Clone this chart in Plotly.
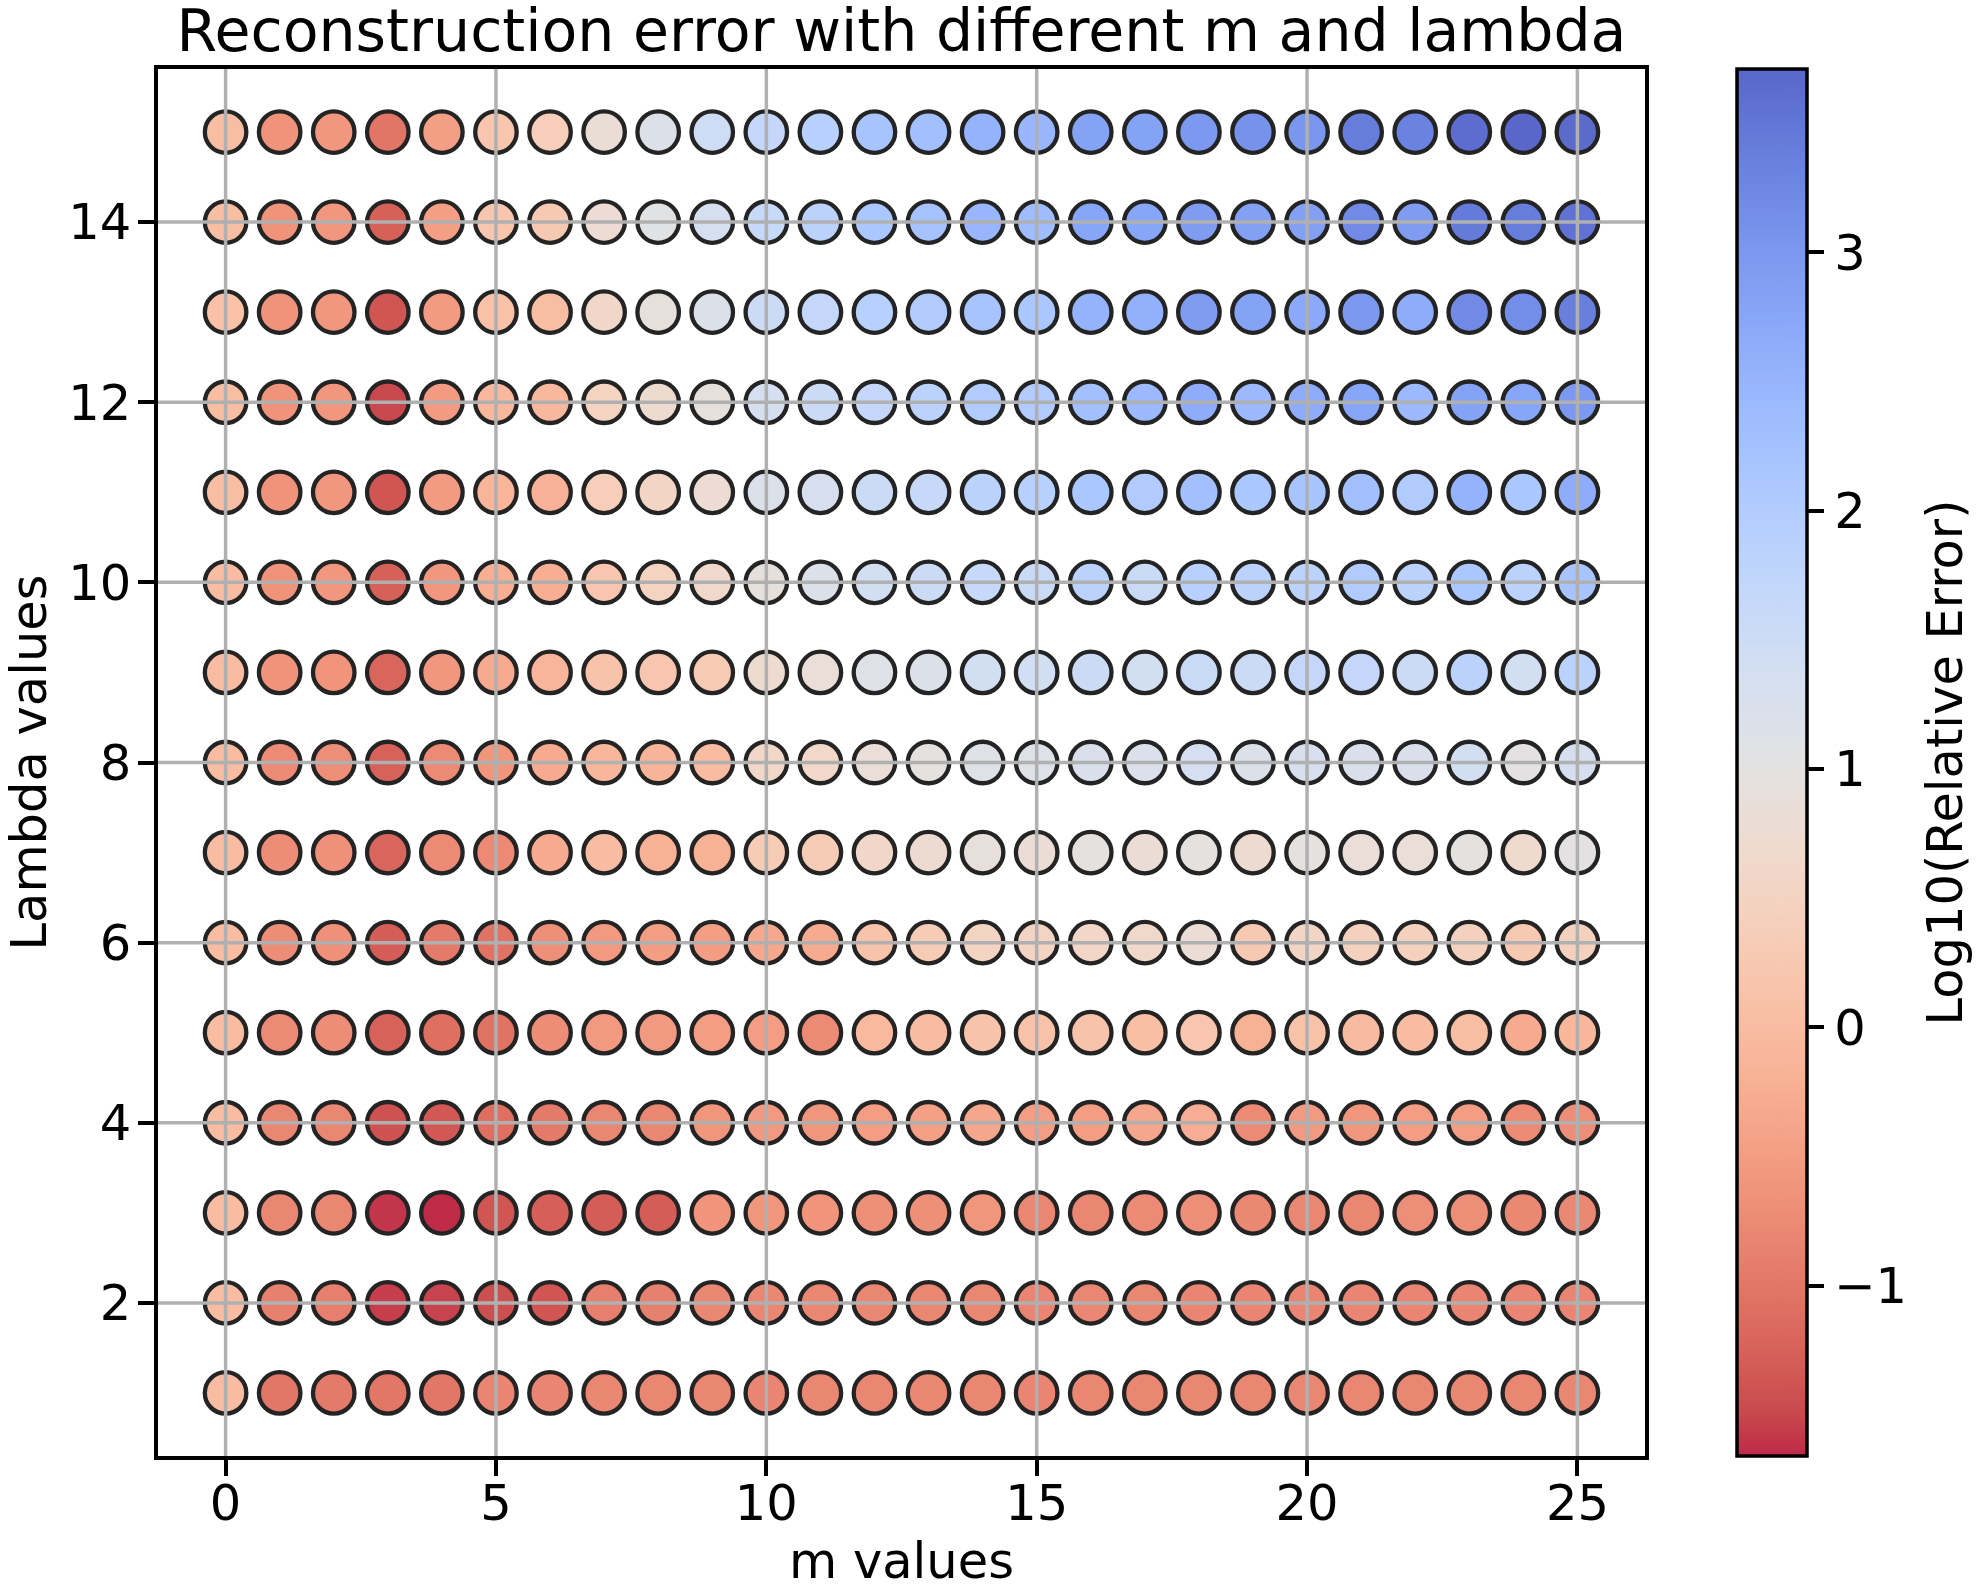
import plotly.graph_objects as go

# ---------------- data ----------------
m_values = list(range(26))
lambda_values = list(range(1, 16))

# log10(relative error) for each lambda, listed for m = 0..25
err_lambda_1 = [0.0, -1.0, -0.95, -1.0, -1.0, -0.82, -0.82, -0.8, -0.8, -0.8, -0.82, -0.8, -0.8, -0.8, -0.8, -0.82, -0.8, -0.8, -0.8, -0.8, -0.8, -0.8, -0.8, -0.8, -0.8, -0.8]
err_lambda_2 = [0.0, -0.87, -0.9, -1.55, -1.52, -1.42, -1.38, -0.9, -0.87, -0.8, -0.8, -0.8, -0.8, -0.8, -0.8, -0.82, -0.8, -0.8, -0.82, -0.82, -0.82, -0.82, -0.82, -0.82, -0.82, -0.82]
err_lambda_3 = [0.0, -0.8, -0.8, -1.6, -1.66, -1.37, -1.27, -1.3, -1.3, -0.62, -0.6, -0.62, -0.68, -0.68, -0.6, -0.8, -0.8, -0.75, -0.7, -0.78, -0.8, -0.8, -0.7, -0.7, -0.78, -0.78]
err_lambda_4 = [0.0, -0.8, -0.8, -1.4, -1.35, -1.1, -0.95, -0.8, -0.8, -0.6, -0.55, -0.6, -0.5, -0.45, -0.35, -0.5, -0.5, -0.35, -0.25, -0.75, -0.55, -0.6, -0.5, -0.5, -0.75, -0.7]
err_lambda_5 = [0.0, -0.75, -0.72, -1.25, -1.1, -1.05, -0.72, -0.55, -0.55, -0.5, -0.5, -0.75, -0.05, 0.0, 0.15, 0.12, 0.15, 0.05, 0.2, -0.2, 0.12, -0.02, 0.0, 0.03, -0.3, -0.1]
err_lambda_6 = [0.0, -0.72, -0.66, -1.3, -0.95, -1.05, -0.68, -0.55, -0.5, -0.5, -0.33, -0.3, 0.15, 0.34, 0.5, 0.5, 0.58, 0.65, 0.8, 0.28, 0.55, 0.45, 0.45, 0.45, 0.28, 0.45]
err_lambda_7 = [0.0, -0.72, -0.66, -1.2, -0.75, -0.75, -0.3, 0.0, -0.2, -0.2, 0.34, 0.34, 0.6, 0.75, 0.9, 0.8, 0.97, 0.8, 0.97, 0.75, 0.97, 0.85, 0.85, 0.97, 0.68, 1.0]
err_lambda_8 = [0.0, -0.75, -0.7, -1.25, -0.75, -0.6, -0.3, -0.1, -0.15, 0.0, 0.6, 0.62, 0.85, 0.97, 1.12, 1.12, 1.25, 1.2, 1.35, 1.17, 1.28, 1.23, 1.23, 1.4, 1.0, 1.34]
err_lambda_9 = [0.0, -0.64, -0.62, -1.2, -0.58, -0.3, -0.13, 0.15, 0.21, 0.3, 0.72, 0.85, 1.11, 1.17, 1.4, 1.4, 1.51, 1.4, 1.57, 1.51, 1.68, 1.68, 1.51, 1.85, 1.4, 1.85]
err_lambda_10 = [0.0, -0.64, -0.58, -1.26, -0.58, -0.24, -0.24, 0.21, 0.49, 0.66, 0.94, 1.17, 1.4, 1.51, 1.62, 1.57, 1.85, 1.57, 1.9, 1.85, 1.85, 2.02, 1.85, 2.13, 1.85, 2.19]
err_lambda_11 = [0.04, -0.64, -0.58, -1.37, -0.53, -0.13, -0.19, 0.38, 0.55, 0.77, 1.17, 1.28, 1.51, 1.62, 1.85, 1.9, 2.13, 2.02, 2.3, 2.13, 2.19, 2.3, 2.02, 2.53, 2.13, 2.64]
err_lambda_12 = [0.04, -0.64, -0.58, -1.49, -0.53, -0.07, -0.07, 0.49, 0.72, 0.94, 1.34, 1.51, 1.68, 1.85, 2.02, 2.02, 2.3, 2.41, 2.64, 2.41, 2.64, 2.75, 2.41, 2.81, 2.75, 2.98]
err_lambda_13 = [0.1, -0.64, -0.58, -1.37, -0.53, 0.1, 0.04, 0.6, 0.94, 1.17, 1.51, 1.68, 1.9, 2.02, 2.19, 2.13, 2.53, 2.58, 2.92, 2.81, 2.7, 2.98, 2.64, 3.2, 3.15, 3.37]
err_lambda_14 = [0.04, -0.64, -0.58, -1.26, -0.47, 0.21, 0.27, 0.77, 1.06, 1.34, 1.62, 1.85, 2.13, 2.24, 2.47, 2.36, 2.75, 2.75, 2.92, 2.86, 2.86, 3.2, 2.92, 3.43, 3.4, 3.54]
err_lambda_15 = [0.04, -0.64, -0.58, -1.03, -0.47, 0.21, 0.38, 0.83, 1.17, 1.45, 1.68, 1.9, 2.19, 2.3, 2.53, 2.47, 2.81, 2.81, 2.98, 3.09, 3.03, 3.4, 3.32, 3.62, 3.71, 3.66]

err_rows = [err_lambda_1, err_lambda_2, err_lambda_3, err_lambda_4, err_lambda_5,
            err_lambda_6, err_lambda_7, err_lambda_8, err_lambda_9, err_lambda_10,
            err_lambda_11, err_lambda_12, err_lambda_13, err_lambda_14, err_lambda_15]

x_ticks = [0, 5, 10, 15, 20, 25]
y_ticks = [2, 4, 6, 8, 10, 12, 14]
cbar_ticks = [-1, 0, 1, 2, 3]

# ---------------- styling ----------------
# matplotlib "coolwarm" anchor colours, drawn with alpha 0.85 over white, reversed
coolwarm = [
    (59, 76, 192), (68, 90, 204), (77, 104, 215), (87, 117, 225), (98, 130, 234),
    (108, 142, 241), (119, 154, 247), (130, 165, 251), (141, 176, 254), (152, 185, 255),
    (163, 194, 255), (174, 201, 253), (184, 208, 249), (194, 213, 244), (204, 217, 238),
    (213, 219, 230), (221, 221, 221), (229, 216, 209), (236, 211, 197), (241, 204, 184),
    (245, 196, 172), (247, 187, 159), (247, 177, 147), (247, 167, 134), (244, 154, 123),
    (241, 141, 111), (236, 127, 99), (229, 112, 89), (222, 96, 77), (213, 80, 66),
    (203, 62, 56), (192, 40, 47), (180, 4, 38)]
alpha = 0.85
rev = coolwarm[::-1]
n = len(rev)
colorscale = []
for i, (r, g, b) in enumerate(rev):
    rr = round(r * alpha + 255 * (1 - alpha))
    gg = round(g * alpha + 255 * (1 - alpha))
    bb = round(b * alpha + 255 * (1 - alpha))
    colorscale.append([i / (n - 1), f"rgb({rr},{gg},{bb})"])

xs, ys, cs = [], [], []
for lam, row in zip(lambda_values, err_rows):
    for m, v in zip(m_values, row):
        xs.append(m)
        ys.append(lam)
        cs.append(v)

FONT = "DejaVu Sans"
FS = 49.5
W, H = 1977, 1590
L, R, T, B = 158, 1645, 69, 1456
LW = 3.5
TL = 16

fig = go.Figure()
fig.add_trace(go.Scatter(
    x=xs, y=ys, mode="markers",
    marker=dict(
        size=41.5, color=cs, colorscale=colorscale, cmin=-1.66, cmax=3.71,
        line=dict(color="#242424", width=4.3),
        colorbar=dict(
            xref="container", x=1737 / W, xanchor="left", xpad=0,
            yref="paper", y=0.5, yanchor="middle", ypad=0,
            len=B - T, lenmode="pixels", thickness=70, thicknessmode="pixels",
            outlinewidth=LW, outlinecolor="black",
            tickvals=cbar_ticks, ticks="outside", ticklen=TL, tickwidth=LW,
            tickcolor="black", tickfont=dict(family=FONT, size=FS, color="black"),
        ),
    ),
    showlegend=False, hoverinfo="skip",
))

# grid lines drawn over the markers (as matplotlib does)
shapes = []
for t in x_ticks:
    shapes.append(dict(type="line", xref="x", yref="paper", x0=t, x1=t, y0=0, y1=1,
                       line=dict(color="#b0b0b0", width=LW), layer="above"))
for t in y_ticks:
    shapes.append(dict(type="line", xref="paper", yref="y", x0=0, x1=1, y0=t, y1=t,
                       line=dict(color="#b0b0b0", width=LW), layer="above"))

axis_common = dict(
    showgrid=False, zeroline=False, showline=True, mirror=True,
    linecolor="black", linewidth=LW, ticks="outside", ticklen=TL, tickwidth=LW,
    tickcolor="black", tickfont=dict(family=FONT, size=FS, color="black"),
    layer="above traces", automargin=False,
)

fig.update_layout(
    width=W, height=H,
    margin=dict(l=L, r=W - R, t=T, b=H - B, autoexpand=False),
    paper_bgcolor="white", plot_bgcolor="white",
    font=dict(family=FONT, color="black"),
    title=dict(text="Reconstruction error with different m and lambda",
               font=dict(family=FONT, size=58.5, color="black"),
               x=0.5, xref="paper", xanchor="center",
               y=1, yref="paper", yanchor="bottom", pad=dict(b=18),
               automargin=False),
    xaxis=dict(range=[-1.25, 26.25], tickvals=x_ticks, ticklabelstandoff=-15,
               title=dict(text="m values", font=dict(family=FONT, size=FS), standoff=36),
               **axis_common),
    yaxis=dict(range=[0.3, 15.7], tickvals=y_ticks, ticklabelstandoff=-3,
               title=dict(text="Lambda values", font=dict(family=FONT, size=FS), standoff=13),
               **axis_common),
    shapes=shapes,
    annotations=[dict(text="Log10(Relative Error)", textangle=-90,
                      xref="paper", yref="paper", x=(1944 - L) / (R - L), y=0.5,
                      xanchor="center", yanchor="middle", showarrow=False,
                      font=dict(family=FONT, size=FS, color="black"))],
)

fig.write_html("out.html")
